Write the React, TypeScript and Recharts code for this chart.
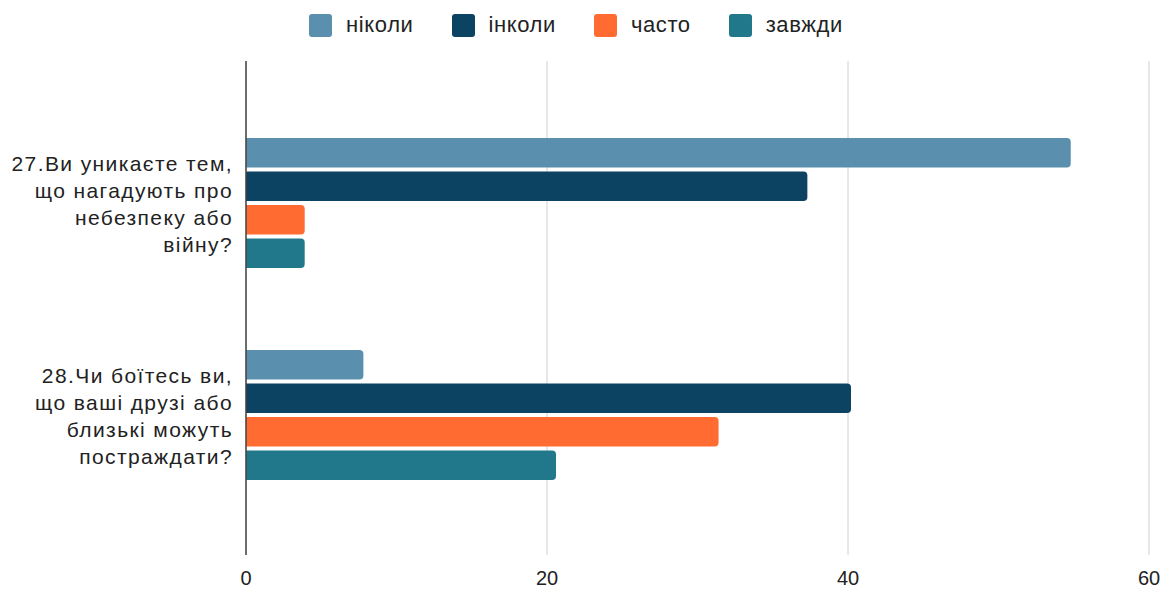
import { BarChart, Bar, XAxis, YAxis, CartesianGrid, Legend } from "recharts";

const questions = ["27", "28"];

const questionLines: string[][] = [
  ["27.Ви уникаєте тем,", "що нагадують про", "небезпеку або", "війну?"],
  ["28.Чи боїтесь ви,", "що ваші друзі або", "близькі можуть", "постраждати?"],
];

const seriesNames = ["ніколи", "інколи", "часто", "завжди"];
const seriesKeys = ["nikoly", "inkoly", "chasto", "zavzhdy"];
const seriesColors = ["#5a8fae", "#0c4262", "#ff6b30", "#21788a"];

const nikoly = [54.8, 7.8];
const inkoly = [37.3, 40.2];
const chasto = [3.9, 31.4];
const zavzhdy = [3.9, 20.6];

const xTicks = [0, 20, 40, 60];

const data = questions.map((q, i) => ({
  q,
  nikoly: nikoly[i],
  inkoly: inkoly[i],
  chasto: chasto[i],
  zavzhdy: zavzhdy[i],
}));

const FONT = '"Liberation Sans", Arial, sans-serif';

function QuestionTick({ y, payload, index }: any) {
  const idx = questions.indexOf(payload?.value);
  const lines = questionLines[idx >= 0 ? idx : index] ?? [];
  const lh = 27;
  const start = y - ((lines.length - 1) * lh) / 2 + 8;
  return (
    <text
      x={233}
      y={start}
      textAnchor="end"
      fontSize={21}
      fontFamily={FONT}
      fill="#222"
      style={{ letterSpacing: 1.4 }}
    >
      {lines.map((l, i) => (
        <tspan key={i} x={233} y={start + i * lh}>
          {l}
        </tspan>
      ))}
    </text>
  );
}

function TopLegend() {
  return (
    <div
      style={{
        height: 36,
        display: "flex",
        justifyContent: "center",
        alignItems: "center",
        fontFamily: FONT,
        fontSize: 22,
        letterSpacing: 0.6,
        color: "#222",
        paddingRight: 20,
      }}
    >
      {seriesNames.map((name, i) => (
        <span
          key={name}
          style={{
            display: "flex",
            alignItems: "center",
            marginRight: i < seriesNames.length - 1 ? 38 : 0,
          }}
        >
          <span
            style={{
              width: 23,
              height: 23,
              borderRadius: 3,
              background: seriesColors[i],
              marginRight: 14,
              display: "inline-block",
            }}
          />
          {name}
        </span>
      ))}
    </div>
  );
}

export default function App() {
  return (
    <div
      style={{
        position: "absolute",
        left: 0,
        top: 0,
        width: 1172,
        height: 592,
        background: "#fff",
      }}
    >
      <BarChart
        width={1172}
        height={592}
        data={data}
        layout="vertical"
        margin={{ top: 25, right: 23, left: 0, bottom: 0 }}
        barSize={29.5}
        barGap={4}
      >
        <Legend
          verticalAlign="top"
          content={() => <TopLegend />}
          wrapperStyle={{ top: 7, left: 0, width: 1172, height: 36 }}
        />
        <CartesianGrid horizontal={false} stroke="#d0d0d0" />
        <XAxis
          type="number"
          domain={[0, 60]}
          ticks={xTicks}
          axisLine={false}
          tickLine={false}
          tickSize={0}
          tickMargin={16}
          height={37}
          tick={{ fill: "#222", fontSize: 20, fontFamily: FONT }}
        />
        <YAxis
          type="category"
          dataKey="q"
          width={246}
          padding={{ top: 36, bottom: 34 }}
          tickLine={false}
          axisLine={{ stroke: "#444", strokeWidth: 1.5 }}
          tick={<QuestionTick />}
        />
        {seriesKeys.map((k, i) => (
          <Bar
            key={k}
            dataKey={k}
            name={seriesNames[i]}
            fill={seriesColors[i]}
            radius={[0, 4, 4, 0]}
            isAnimationActive={false}
          />
        ))}
      </BarChart>
    </div>
  );
}
